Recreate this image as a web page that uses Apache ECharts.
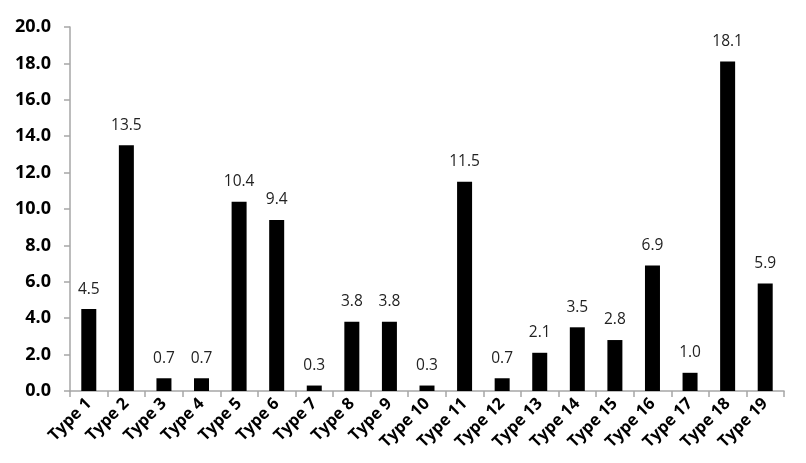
<!DOCTYPE html>
<html>
<head>
<meta charset="utf-8">
<script src="https://cdn.jsdelivr.net/npm/echarts@6/dist/echarts.min.js"></script>
<style>
  html, body { margin: 0; padding: 0; background: #fff; }
  #main { width: 806px; height: 463px; }
</style>
</head>
<body>
<div id="main"></div>
<script>
var categories = ['Type 1', 'Type 2', 'Type 3', 'Type 4', 'Type 5', 'Type 6', 'Type 7', 'Type 8', 'Type 9', 'Type 10',
  'Type 11', 'Type 12', 'Type 13', 'Type 14', 'Type 15', 'Type 16', 'Type 17', 'Type 18', 'Type 19'];
var values = [4.5, 13.5, 0.7, 0.7, 10.4, 9.4, 0.3, 3.8, 3.8, 0.3, 11.5, 0.7, 2.1, 3.5, 2.8, 6.9, 1.0, 18.1, 5.9];

var chart = echarts.init(document.getElementById('main'));
var font = '"Open Sans", "Liberation Sans", sans-serif';
var option = {
  animation: false,
  grid: {
    left: 70,
    right: 22,
    top: 27,
    bottom: 72
  },
  xAxis: {
    type: 'category',
    data: categories,
    axisLine: { lineStyle: { color: '#a6a6a6', width: 1.5 } },
    axisTick: { show: true, length: 6, lineStyle: { color: '#a6a6a6', width: 1.5 } },
    axisLabel: {
      interval: 0,
      rotate: 45,
      margin: 10,
      color: '#000',
      fontWeight: 'bold',
      fontSize: 16.5,
      fontFamily: font
    }
  },
  yAxis: {
    type: 'value',
    min: 0,
    max: 20,
    interval: 2,
    splitLine: { show: false },
    axisLine: { show: true, lineStyle: { color: '#a6a6a6', width: 1.5 } },
    axisTick: { show: true, length: 6, lineStyle: { color: '#a6a6a6', width: 1.5 } },
    axisLabel: {
      color: '#000',
      fontWeight: 'bold',
      fontSize: 18,
      fontFamily: font,
      margin: 19,
      formatter: function (v) { return v.toFixed(1); }
    }
  },
  series: [{
    type: 'bar',
    data: values,
    barWidth: 15,
    itemStyle: { color: '#000' },
    label: {
      show: true,
      position: 'top',
      distance: 12,
      color: '#222',
      fontSize: 15.5,
      fontFamily: font,
      formatter: function (p) { return p.value.toFixed(1); }
    }
  }]
};
chart.setOption(option);
</script>
</body>
</html>
